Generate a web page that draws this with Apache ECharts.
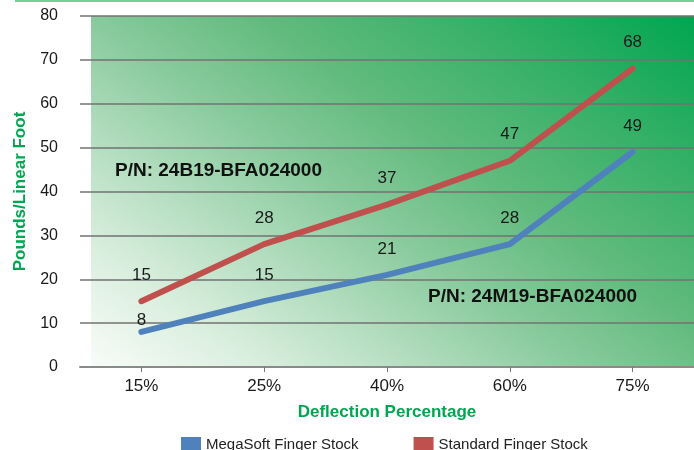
<!DOCTYPE html>
<html>
<head>
<meta charset="utf-8">
<script src="https://cdn.jsdelivr.net/npm/echarts@6/dist/echarts.min.js"></script>
<style>
  html, body { margin: 0; padding: 0; background: #ffffff; }
  #chart { width: 694px; height: 450px; }
</style>
</head>
<body>
<div id="chart"></div>
<script>
// Deflection categories and force per linear foot for each finger stock type
const categories = ['15%', '25%', '40%', '60%', '75%'];
const megaSoft = [8, 15, 21, 28, 49];
const standard = [15, 28, 37, 47, 68];
const yTicks = { min: 0, max: 80, interval: 10 };

const FONT = '"Liberation Sans", Arial, Helvetica, sans-serif';
const GREEN = '#00a651';

// Plot backdrop panel
const panel = { x: 91, y: 16, w: 603, h: 351 };

// Diagonal gradient expressed in panel-relative units, converted to pixel endpoints
function panelGradient(p, wx, wy, stops) {
  const dx = wx / p.w, dy = wy / p.h;
  const len2 = dx * dx + dy * dy;
  const gx = dx / len2, gy = dy / len2;
  const x0 = p.x, y0 = p.y + p.h;
  return new echarts.graphic.LinearGradient(x0, y0, x0 + gx, y0 - gy, stops, true);
}

const chart = echarts.init(document.getElementById('chart'), null, { renderer: 'canvas' });

const labelStyle = {
  show: true,
  position: 'top',
  distance: 17,
  fontFamily: FONT,
  fontSize: 17,
  color: '#1a1a1a'
};

const option = {
  animation: false,
  backgroundColor: '#ffffff',
  textStyle: { fontFamily: FONT },
  grid: { left: 80, right: 0, top: 16, bottom: 83, containLabel: false },
  graphic: [
    {
      type: 'rect',
      z: -10,
      silent: true,
      shape: { x: panel.x, y: panel.y, width: panel.w, height: panel.h },
      style: {
        fill: panelGradient(panel, 0.55, 0.45, [
          { offset: 0, color: '#f8fcf9' },
          { offset: 0.15, color: '#dbefdf' },
          { offset: 0.3, color: '#b3ddbf' },
          { offset: 0.45, color: '#88ca9c' },
          { offset: 0.6, color: '#62bb7e' },
          { offset: 0.8, color: '#34b067' },
          { offset: 1, color: '#00a651' }
        ])
      }
    },
    {
      type: 'line',
      z: 10,
      silent: true,
      shape: { x1: 15, y1: 1, x2: 694, y2: 1 },
      style: { stroke: '#6fd197', lineWidth: 2 }
    },
    {
      type: 'text',
      z: 20,
      left: 115,
      top: 161,
      style: {
        text: 'P/N: 24B19-BFA024000',
        font: 'bold 19px ' + FONT,
        fill: '#111111'
      }
    },
    {
      type: 'text',
      z: 20,
      left: 428,
      top: 287,
      style: {
        text: 'P/N: 24M19-BFA024000',
        font: 'bold 19px ' + FONT,
        fill: '#111111'
      }
    }
  ],
  legend: {
    left: 176,
    top: 432,
    itemWidth: 20,
    itemHeight: 15,
    itemGap: 55,
    icon: 'rect',
    textStyle: { fontFamily: FONT, fontSize: 15, color: '#222222' },
    data: ['MegaSoft Finger Stock', 'Standard Finger Stock']
  },
  xAxis: {
    type: 'category',
    data: categories,
    boundaryGap: true,
    name: 'Deflection Percentage',
    nameLocation: 'middle',
    nameGap: 37,
    nameTextStyle: { fontFamily: FONT, fontSize: 17, fontWeight: 'bold', color: GREEN },
    axisLine: { show: true, lineStyle: { color: '#8a8a8a', width: 2 } },
    axisTick: { show: true, alignWithLabel: true, length: 5, lineStyle: { color: '#777777' } },
    axisLabel: { margin: 11, fontFamily: FONT, fontSize: 17, color: '#1a1a1a' },
    splitLine: { show: false }
  },
  yAxis: {
    type: 'value',
    min: yTicks.min,
    max: yTicks.max,
    interval: yTicks.interval,
    name: 'Pounds/Linear Foot',
    nameLocation: 'middle',
    nameGap: 51,
    nameTextStyle: { fontFamily: FONT, fontSize: 17, fontWeight: 'bold', color: GREEN },
    axisLine: { show: false },
    axisTick: { show: false },
    axisLabel: { margin: 22, fontFamily: FONT, fontSize: 16, color: '#1a1a1a' },
    splitLine: { show: true, lineStyle: { color: '#727272', width: 1.5 } }
  },
  series: [
    {
      name: 'MegaSoft Finger Stock',
      type: 'line',
      data: megaSoft.map((v, i) => i === 0 ? { value: v, label: { distance: 3 } } : v),
      symbol: 'circle',
      symbolSize: 1,
      showSymbol: true,
      itemStyle: { color: '#4f81bd' },
      lineStyle: { color: '#4f81bd', width: 6, cap: 'round', join: 'round' },
      label: labelStyle,
      z: 3
    },
    {
      name: 'Standard Finger Stock',
      type: 'line',
      data: standard,
      symbol: 'circle',
      symbolSize: 1,
      showSymbol: true,
      itemStyle: { color: '#c0504d' },
      lineStyle: { color: '#c0504d', width: 6, cap: 'round', join: 'round' },
      label: labelStyle,
      z: 3
    }
  ]
};

chart.setOption(option);
</script>
</body>
</html>
